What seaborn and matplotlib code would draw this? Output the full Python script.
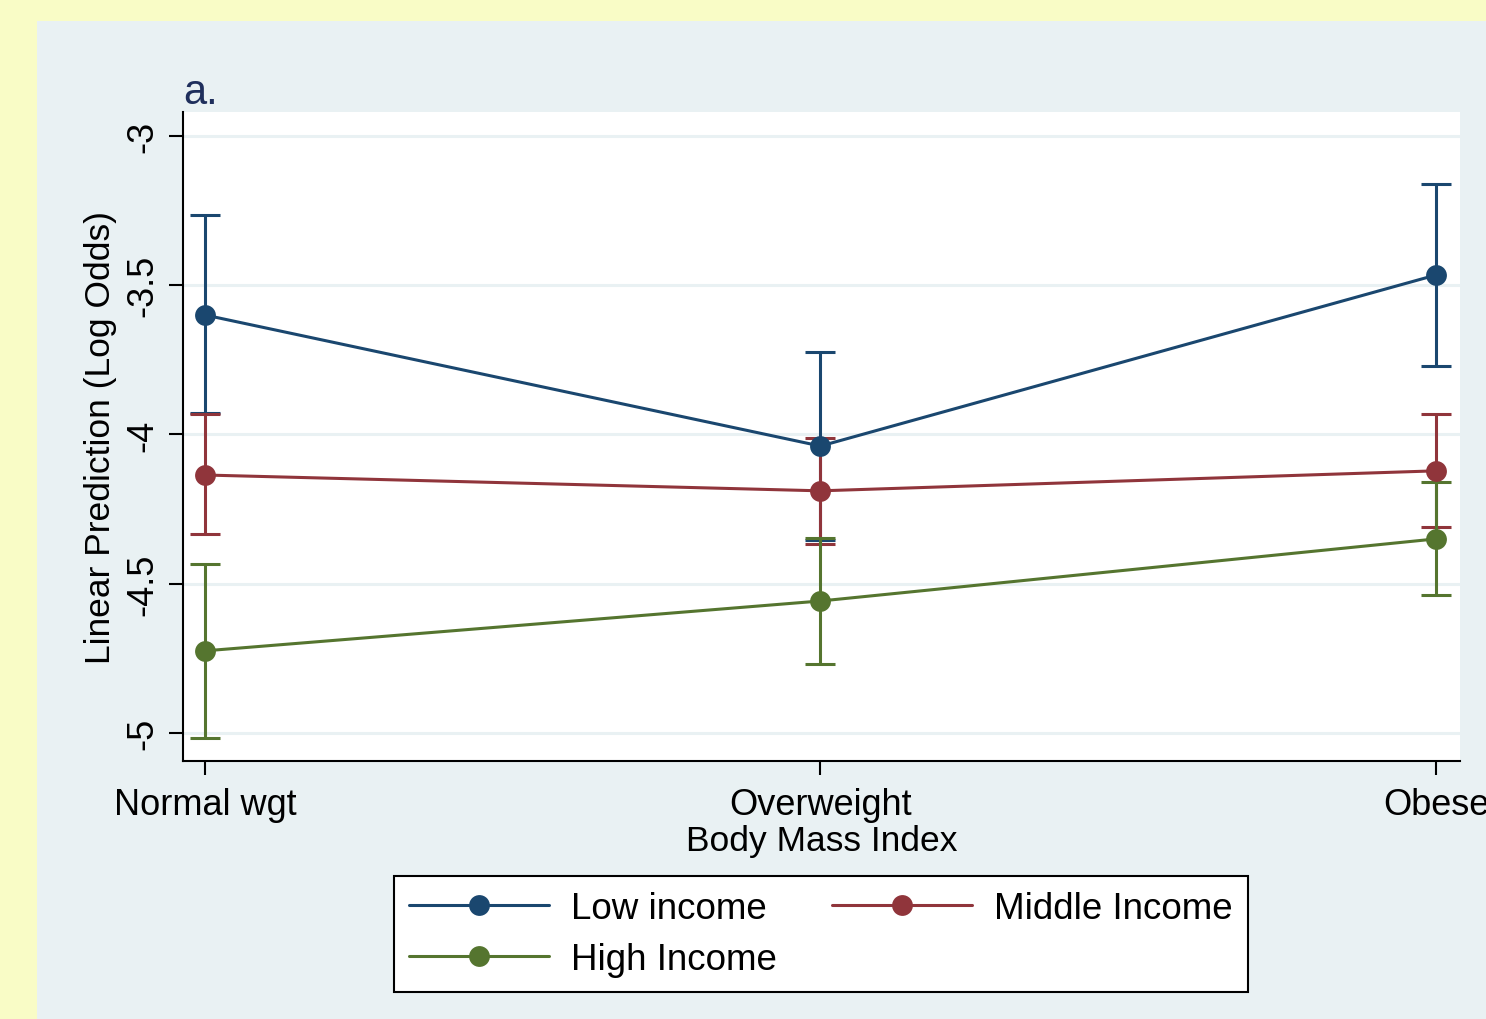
import matplotlib
matplotlib.use('Agg')

import matplotlib.pyplot as plt
import numpy as np
import pandas as pd
import seaborn as sns
from matplotlib.patches import Rectangle

# Data
bmi_groups = ["Normal wgt", "Overweight", "Obese"]
income_groups = ["Low income", "Middle Income", "High Income"]

low_pred = [-3.600, -4.039, -3.466]
low_lo = [-3.928, -4.354, -3.771]
low_hi = [-3.265, -3.724, -3.161]

mid_pred = [-4.136, -4.189, -4.122]
mid_lo = [-4.333, -4.368, -4.309]
mid_hi = [-3.931, -4.013, -3.931]

high_pred = [-4.725, -4.558, -4.350]
high_lo = [-5.017, -4.769, -4.538]
high_hi = [-4.434, -4.348, -4.158]

y_ticks = [-3, -3.5, -4, -4.5, -5]
y_tick_labels = ["-3", "-3.5", "-4", "-4.5", "-5"]

# Stata s2color-ish palette
colors = {"Low income": "#1a476f", "Middle Income": "#90353b", "High Income": "#55752f"}

sns.set_style("ticks")
plt.rcParams['font.family'] = ['Liberation Sans', 'DejaVu Sans']
plt.rcParams['text.color'] = 'black'
plt.rcParams['axes.labelcolor'] = 'black'
plt.rcParams['xtick.color'] = 'black'
plt.rcParams['ytick.color'] = 'black'

rows = []
for name, pred, lo, hi in [("Low income", low_pred, low_lo, low_hi),
                           ("Middle Income", mid_pred, mid_lo, mid_hi),
                           ("High Income", high_pred, high_lo, high_hi)]:
    for i, g in enumerate(bmi_groups):
        rows.append({"income": name, "bmi": i, "pred": pred[i], "lo": lo[i], "hi": hi[i]})
df = pd.DataFrame(rows)

fig = plt.figure(figsize=(14.86, 10.2), dpi=100)
fig.patch.set_facecolor("#f9fcc6")
# inner graph region (Stata style)
fig.patches.append(Rectangle((37 / 1486, 0), 1 - 37 / 1486, 1 - 22 / 1020,
                             transform=fig.transFigure, facecolor="#e9f1f3",
                             edgecolor="none", zorder=-10))

ax = fig.add_axes([183 / 1486, 1 - 762 / 1020, (1460 - 183) / 1486, (762 - 113) / 1020])
ax.set_facecolor("white")

# error bars first, then lines + markers on top
for name in income_groups:
    sub = df[df["income"] == name]
    ax.errorbar(sub["bmi"], sub["pred"],
                yerr=[sub["pred"] - sub["lo"], sub["hi"] - sub["pred"]],
                fmt="none", ecolor=colors[name], elinewidth=2.2,
                capsize=10.5, capthick=2.2, zorder=2)

sns.lineplot(data=df, x="bmi", y="pred", hue="income", hue_order=income_groups,
             palette=colors, marker="o", markersize=15, markeredgewidth=0,
             linewidth=2.2, ax=ax, zorder=3)

ax.set_xlim(-0.0357, 2.039)
ax.set_ylim(-5.094, -2.92)
ax.set_yticks(y_ticks)
ax.set_yticklabels(y_tick_labels, rotation=90, va="center")
ax.set_xticks(range(len(bmi_groups)))
ax.set_xticklabels(bmi_groups)
ax.yaxis.grid(True, color="#e9f1f3", linewidth=2.2)
ax.set_axisbelow(True)

for s in ["top", "right"]:
    ax.spines[s].set_visible(False)
for s in ["left", "bottom"]:
    ax.spines[s].set_color("black")
    ax.spines[s].set_linewidth(1.5)
ax.tick_params(axis="both", length=10, width=1.5, color="black", labelsize=26, pad=6)
ax.tick_params(axis="x", pad=9)

ax.set_xlabel("Body Mass Index", fontsize=25.5, labelpad=1)
ax.set_ylabel("Linear Prediction (Log Odds)", fontsize=25.5, labelpad=6)
ax.set_title("a.", loc="left", fontsize=30, color="#1f2f5c", pad=6)

# legend below the plot, row-major order
handles, labels = ax.get_legend_handles_labels()
ax.get_legend().remove()
order = [labels.index(l) for l in ["Low income", "High Income", "Middle Income"]]
leg = fig.legend([handles[i] for i in order], [labels[i] for i in order],
                 loc="center", bbox_to_anchor=(821 / 1486, 1 - 935 / 1020),
                 ncol=2, fontsize=26.5, frameon=True, fancybox=False,
                 handlelength=3.8, handletextpad=0.6, columnspacing=1.5,
                 labelspacing=0.42, borderpad=0.42, borderaxespad=0)
leg.get_frame().set_edgecolor("black")
leg.get_frame().set_linewidth(1.5)
leg.get_frame().set_facecolor("white")
leg.get_frame().set_alpha(1)

fig.savefig("out.png", dpi=100, facecolor=fig.get_facecolor())
